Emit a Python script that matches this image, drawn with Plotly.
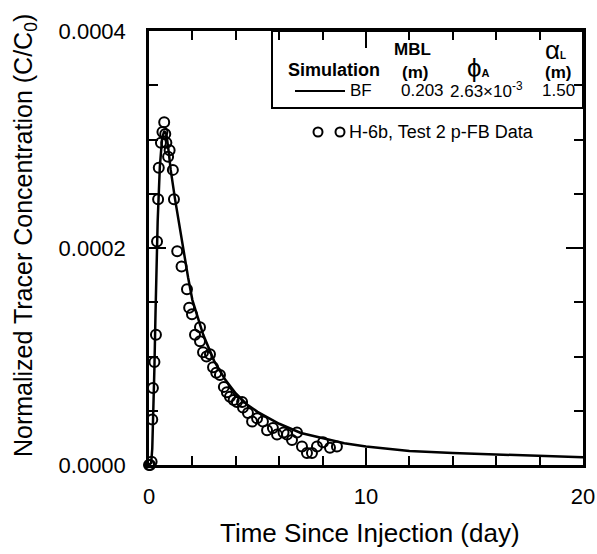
import plotly.graph_objects as go

# Simulated BF curve (time in days, C/C0)
sim_t = [0.0, 0.1, 0.15, 0.2, 0.25, 0.3, 0.35, 0.4, 0.5, 0.6, 0.7, 0.8, 0.9, 1.0, 1.2, 1.4, 1.6,
         1.8, 2.0, 2.5, 3.0, 3.5, 4.0, 4.5, 5.0, 6.0, 7.0, 8.0, 9.0, 10.0, 12.0, 14.0, 16.0, 18.0, 20.0]
sim_c = [0.0, 0.02e-4, 0.15e-4, 0.45e-4, 0.9e-4, 1.4e-4, 1.85e-4, 2.25e-4, 2.75e-4, 3.0e-4, 3.08e-4,
         3.05e-4, 2.9e-4, 2.72e-4, 2.45e-4, 2.2e-4, 1.96e-4, 1.73e-4, 1.52e-4, 1.2e-4, 0.96e-4,
         0.79e-4, 0.66e-4, 0.56e-4, 0.49e-4, 0.38e-4, 0.295e-4, 0.245e-4, 0.2e-4, 0.17e-4, 0.13e-4,
         0.11e-4, 0.095e-4, 0.083e-4, 0.072e-4]

# H-6b, Test 2 p-FB data
obs_t = [0.0, 0.05, 0.12, 0.15, 0.18, 0.25, 0.32, 0.37, 0.42, 0.45, 0.55, 0.62, 0.7, 0.75, 0.8,
         0.88, 0.95, 1.1, 1.15, 1.3, 1.5, 1.75, 1.85, 1.98, 2.12, 2.35, 2.35, 2.49, 2.65, 2.81,
         2.95, 3.1, 3.27, 3.45, 3.59, 3.73, 3.9, 4.05, 4.29, 4.33, 4.56, 4.75, 4.98, 5.25, 5.44,
         5.71, 5.9, 6.2, 6.36, 6.59, 6.82, 7.05, 7.28, 7.51, 7.74, 8.02, 8.34, 8.66]
obs_c = [0.0, 0.0, 0.03e-4, 0.42e-4, 0.71e-4, 0.95e-4, 1.2e-4, 2.06e-4, 2.45e-4, 2.74e-4, 2.97e-4,
         3.07e-4, 3.16e-4, 3.05e-4, 2.97e-4, 2.84e-4, 2.9e-4, 2.72e-4, 2.45e-4, 1.97e-4, 1.83e-4,
         1.62e-4, 1.45e-4, 1.39e-4, 1.2e-4, 1.27e-4, 1.14e-4, 1.04e-4, 1.0e-4, 1.02e-4, 0.9e-4,
         0.85e-4, 0.83e-4, 0.72e-4, 0.67e-4, 0.63e-4, 0.6e-4, 0.58e-4, 0.58e-4, 0.53e-4, 0.48e-4,
         0.40e-4, 0.43e-4, 0.40e-4, 0.32e-4, 0.34e-4, 0.28e-4, 0.30e-4, 0.28e-4, 0.23e-4, 0.30e-4,
         0.17e-4, 0.11e-4, 0.11e-4, 0.17e-4, 0.21e-4, 0.16e-4, 0.17e-4]

x_ticks = [0, 10, 20]
y_ticks = [0.0, 0.0002, 0.0004]
y_tick_labels = ["0.0000", "0.0002", "0.0004"]

W, H = 597, 554
L, R, T, B = 149, 14, 31, 89
PW, PH = W - L - R, H - T - B


def px(x):
    return (x - L) / PW


def py(y):
    return (H - B - y) / PH


FONT = "Liberation Sans, Arial, sans-serif"

fig = go.Figure()
fig.add_trace(go.Scatter(x=sim_t, y=sim_c, mode="lines",
                         line=dict(color="black", width=2.5), cliponaxis=False))
fig.add_trace(go.Scatter(x=obs_t, y=obs_c, mode="markers",
                         marker=dict(symbol="circle-open", size=10, color="black",
                                     line=dict(width=2, color="black")),
                         cliponaxis=False))

axis_common = dict(showgrid=False, zeroline=False, showline=True, linecolor="black",
                   linewidth=2.5, mirror="ticks", ticks="inside", tickcolor="black",
                   tickwidth=2, ticklen=17, automargin=False,
                   tickfont=dict(family=FONT, size=22, color="black"))

fig.update_layout(
    width=W, height=H, autosize=False,
    margin=dict(l=L, r=R, t=T, b=B),
    paper_bgcolor="white", plot_bgcolor="white",
    showlegend=False,
    xaxis=dict(range=[0, 20], tickvals=x_ticks, ticktext=[str(v) for v in x_ticks],
               minor=dict(dtick=2, ticks="inside", ticklen=9, tickwidth=1.5, tickcolor="black"),
               ticklabelstandoff=10, **axis_common),
    yaxis=dict(range=[0, 0.0004], tickvals=y_ticks, ticktext=y_tick_labels,
               minor=dict(dtick=0.00005, ticks="inside", ticklen=9, tickwidth=1.5, tickcolor="black"),
               ticklabelstandoff=16, **axis_common),
)

ann = []
ann.append(dict(text="Time Since Injection (day)", x=px(370), y=py(533), xref="paper", yref="paper",
                showarrow=False, xanchor="center", yanchor="middle",
                font=dict(family=FONT, size=26, color="black")))
ann.append(dict(text="Normalized Tracer Concentration (C/C<sub>0</sub>)", x=px(25), y=py(236),
                xref="paper", yref="paper", textangle=-90,
                showarrow=False, xanchor="center", yanchor="middle",
                font=dict(family=FONT, size=25, color="black")))


def t(text, x, y, size=17, bold=False, anchor="center"):
    if bold:
        text = "<b>" + text + "</b>"
    ann.append(dict(text=text, x=px(x), y=py(y), xref="paper", yref="paper", showarrow=False,
                    xanchor=anchor, yanchor="middle",
                    font=dict(family=FONT, size=size, color="black")))


t("Simulation", 334, 70, 18, True)
t("MBL", 412, 50, 17, True)
t("(m)", 415, 72, 17, True)
t("ϕ<span style='font-size:11px'><b>A</b></span>", 478, 68, 26)
t("α<span style='font-size:10px'><b>L</b></span>", 555, 50, 26)
t("(m)", 558, 72, 17, True)
t("BF", 361, 91, 17)
t("0.203", 422, 91, 17)
t("2.63×10<sup>-3</sup>", 486, 90, 17)
t("1.50", 558, 91, 17)
t("H-6b, Test 2 p-FB Data", 347, 132, 18, anchor="left")

shapes = [
    dict(type="rect", xref="paper", yref="paper", x0=px(272), x1=1, y0=py(108), y1=1,
         line=dict(color="black", width=2), fillcolor="rgba(0,0,0,0)"),
    dict(type="line", xref="paper", yref="paper", x0=px(295), x1=px(345), y0=py(91), y1=py(91),
         line=dict(color="black", width=2)),
]
for cx in (318, 340):
    shapes.append(dict(type="circle", xref="paper", yref="paper",
                       x0=px(cx - 4.5), x1=px(cx + 4.5), y0=py(132 + 4.5), y1=py(132 - 4.5),
                       line=dict(color="black", width=2)))

fig.update_layout(annotations=ann, shapes=shapes)
fig.write_html("out.html", config={"displayModeBar": False},
               post_script="document.body.style.margin='0';document.body.style.overflow='hidden';")
